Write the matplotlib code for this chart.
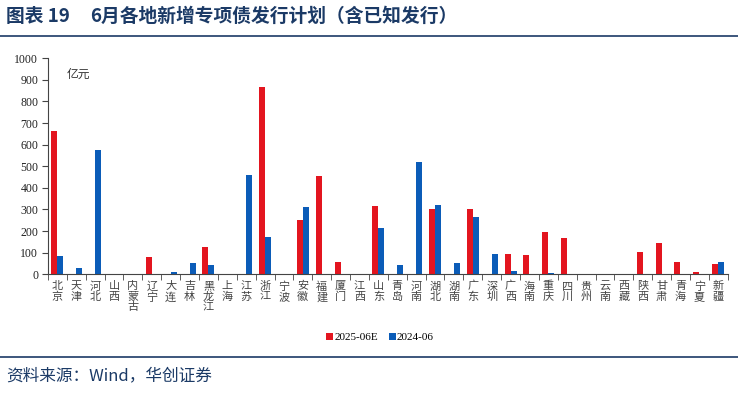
import matplotlib
matplotlib.use("Agg")
import matplotlib.pyplot as plt
import numpy as np

plt.rcParams['font.family'] = ['Noto Sans CJK SC', 'DejaVu Sans']

categories = ["北京", "天津", "河北", "山西", "内蒙古", "辽宁", "大连", "吉林", "黑龙江", "上海",
              "江苏", "浙江", "宁波", "安徽", "福建", "厦门", "江西", "山东", "青岛", "河南",
              "湖北", "湖南", "广东", "深圳", "广西", "海南", "重庆", "四川", "贵州", "云南",
              "西藏", "陕西", "甘肃", "青海", "宁夏", "新疆"]
series_2025 = [662, 0, 0, 0, 0, 80, 0, 0, 126, 0,
               0, 866, 0, 249, 456, 58, 0, 316, 0, 0,
               300, 0, 300, 0, 95, 89, 198, 170, 0, 0,
               0, 101, 147, 55, 9, 49]
series_2024 = [83, 31, 575, 0, 0, 0, 11, 54, 41, 0,
               459, 174, 0, 313, 0, 0, 0, 215, 41, 521,
               319, 54, 263, 92, 14, 0, 6, 0, 0, 0,
               0, 0, 0, 0, 0, 55]
yticks = list(range(0, 1001, 100))
legend_labels = ["2025-06E", "2024-06"]

RED = "#E3151F"
BLUE = "#0B5CB8"
NAVY = "#1B3A66"

fig = plt.figure(figsize=(7.38, 3.93), dpi=100)
ax = fig.add_axes([0.065, 0.302, 0.921, 0.550])

x = np.arange(len(categories))
w = 0.32
ax.bar(x - w / 2, series_2025, width=w, color=RED, label=legend_labels[0])
ax.bar(x + w / 2, series_2024, width=w, color=BLUE, label=legend_labels[1])

ax.set_xlim(-0.5, len(categories) - 0.5)
ax.set_ylim(0, 1000)
ax.set_yticks(yticks)
ax.set_yticklabels([str(v) for v in yticks], family=['Liberation Serif'], fontsize=8.5, color="#222222")
ax.set_xticks(np.arange(len(categories) + 1) - 0.5, minor=True)
ax.set_xticks(x)
ax.set_xticklabels(["\n".join(c) for c in categories], fontsize=8, color="#444444",
                   linespacing=1.05, va="top")
ax.tick_params(axis='x', which='major', length=0, pad=5)
ax.tick_params(axis='x', which='minor', length=4, direction='out', color="#444444")
ax.tick_params(axis='y', length=4, direction='out', color="#444444", pad=3)
for s in ['top', 'right']:
    ax.spines[s].set_visible(False)
for s in ['left', 'bottom']:
    ax.spines[s].set_color("#444444")
    ax.spines[s].set_linewidth(0.8)

ax.text(0.027, 0.955, "亿元", transform=ax.transAxes, fontsize=8.5, color="#333333", va="top")

leg = fig.legend(loc="center", bbox_to_anchor=(0.515, 0.141), ncol=2, frameon=False,
                 handlelength=0.6, handleheight=0.6, handletextpad=0.1, columnspacing=1.0,
                 prop={'family': 'Liberation Serif', 'size': 8})

fig.text(0.008, 0.958, "图表 19", fontsize=13.5,
         fontweight='bold', color=NAVY, va="center", ha="left")
fig.text(0.122, 0.958, "6月各地新增专项债发行计划（含已知发行）", fontsize=13.5,
         fontweight='bold', color=NAVY, va="center", ha="left")
fig.add_artist(plt.Line2D([0.0, 1.0], [0.908, 0.908], transform=fig.transFigure, color=NAVY, lw=1.2))
fig.add_artist(plt.Line2D([0.0, 1.0], [0.092, 0.092], transform=fig.transFigure, color=NAVY, lw=1.2))
fig.text(0.008, 0.045, "资料来源：Wind，华创证券", fontsize=12, style='italic', color=NAVY,
         va="center", ha="left")

fig.savefig("out.png", dpi=100)
